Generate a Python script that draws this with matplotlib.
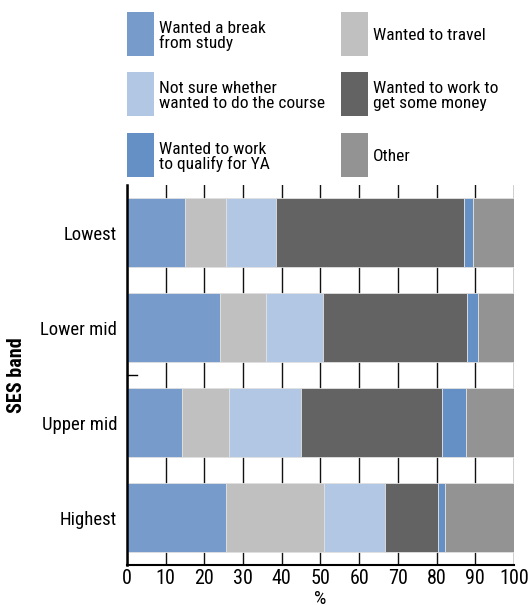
import matplotlib
matplotlib.use("Agg")
import matplotlib.pyplot as plt
from matplotlib.patches import Rectangle
from matplotlib import font_manager

names = {f.name for f in font_manager.fontManager.ttflist}
FONT = "DejaVu Sans"
for cand in ["Roboto Condensed", "Archivo Narrow", "PT Sans Narrow"]:
    if cand in names:
        FONT = cand
        break
plt.rcParams['font.family'] = [FONT, 'DejaVu Sans']

categories = ["Lowest", "Lower mid", "Upper mid", "Highest"]
series_names = ["Wanted a break\nfrom study", "Wanted to travel",
                "Not sure whether\nwanted to do the course", "Wanted to work to\nget some money",
                "Wanted to work\nto qualify for YA", "Other"]
break_study = [14.9, 24.1, 14.3, 25.5]
travel = [10.6, 11.9, 12.2, 25.5]
not_sure = [12.9, 14.7, 18.5, 15.7]
work_money = [48.7, 37.2, 36.5, 13.7]
work_ya = [2.2, 2.7, 6.2, 1.9]
other = [10.7, 9.4, 12.3, 17.7]
colors = ["#779ccb", "#c0c0c0", "#b1c7e4", "#636363", "#6490c6", "#939393"]
xticks = [0, 10, 20, 30, 40, 50, 60, 70, 80, 90, 100]

series = [break_study, travel, not_sure, work_money, work_ya, other]

fig = plt.figure(figsize=(5.31, 6.05), dpi=100)
ax = fig.add_axes([0.239, 0.066, 0.729, 0.628])

ypos = list(range(len(categories)))
left = [0.0] * len(categories)
for vals, col in zip(series, colors):
    ax.barh(ypos, vals, left=left, height=0.72, color=col, edgecolor="#e0e0e0",
            linewidth=0.6, zorder=3)
    left = [l + v for l, v in zip(left, vals)]

ax.set_ylim(3.5, -0.5)
ax.set_xlim(0, 100)
ax.set_xticks(xticks)
ax.set_xticklabels([str(t) for t in xticks], fontsize=14.5)
ax.set_yticks(ypos)
ax.set_yticklabels(categories, fontsize=13.5)
ax.tick_params(axis='y', length=0, pad=7)
ax.tick_params(axis='x', length=0, pad=3)
ax.xaxis.grid(True, color="#111111", linewidth=1.0, zorder=0)
ax.set_axisbelow(True)
for s in ["top", "right"]:
    ax.spines[s].set_visible(False)
ax.spines["left"].set_linewidth(1.8)
ax.spines["bottom"].set_linewidth(1.5)
ax.spines["left"].set_zorder(5)
ax.spines["bottom"].set_zorder(5)
ax.set_xlabel("%", fontsize=14, labelpad=1)
ax.set_ylabel("SES band", fontsize=14.5, fontweight="bold", labelpad=10)

# small tick mark on left spine between the middle bars
ax.plot([0, 2.5], [1.5, 1.5], color="black", lw=1.0, zorder=4, clip_on=False)

# legend, drawn manually in figure pixels
W, H = 531, 605
col_x = [127, 341]
row_y = [12, 72, 133]
order = [(0, 0), (1, 0), (0, 1), (1, 1), (0, 2), (1, 2)]
for (c, r), name, col in zip(order, series_names, colors):
    x0 = col_x[c]
    y0 = row_y[r]
    fig.patches.append(Rectangle((x0 / W, 1 - (y0 + 44) / H), 27 / W, 44 / H,
                                 transform=fig.transFigure, facecolor=col,
                                 edgecolor="none"))
    fig.text((x0 + 32) / W, 1 - (y0 + 24) / H, name, fontsize=12.5,
             va="center", ha="left", linespacing=0.95)

fig.savefig("out.png", dpi=100)
